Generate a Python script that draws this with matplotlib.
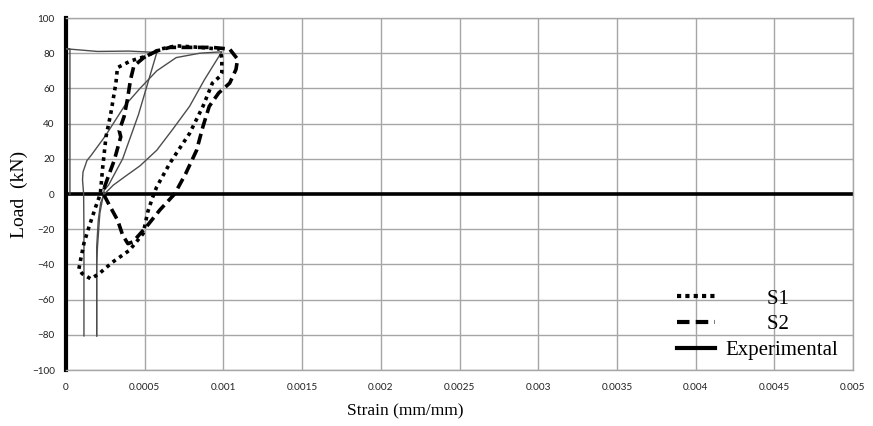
import numpy as np
import matplotlib
matplotlib.use("Agg")
import matplotlib.pyplot as plt
from matplotlib.lines import Line2D

# ---------------- data ----------------
s1_strain = [0.000082, 0.000092, 0.000114, 0.000146, 0.000189, 0.000218, 0.000233,
             0.000254, 0.000285, 0.000317, 0.000327, 0.00041, 0.000515, 0.000598,
             0.0007, 0.00085, 0.00098, 0.00099, 0.00099, 0.00098, 0.00093, 0.00087,
             0.000785, 0.0007, 0.00066, 0.000576, 0.00055, 0.00052, 0.00049, 0.000403,
             0.000296, 0.00021, 0.000157, 0.000103, 0.000082]
s1_load = [-42.5, -37.7, -28, -18.7, -7.2, 0, 15,
           32.5, 46, 63, 71.8, 75.6, 78.5, 82.3,
           84.2, 83.3, 82.3, 76.6, 68.9, 67, 63, 49.8,
           34.4, 23, 17.5, 4, -2, -10, -22.5, -32,
           -38.7, -45.3, -48.2, -45.3, -42.5]

s2_strain = [0.000244, 0.000275, 0.000306, 0.000348, 0.000338, 0.000369, 0.00039,
             0.00041, 0.000431, 0.000494, 0.000577, 0.00066, 0.000785, 0.00093,
             0.00104, 0.00109, 0.00108, 0.00104, 0.00097, 0.00091, 0.00087, 0.00083,
             0.00076, 0.00069, 0.000597, 0.00051, 0.000425, 0.000393, 0.00036,
             0.000328, 0.000275, 0.000242, 0.000244]
s2_load = [3.8, 11.5, 19, 32.5, 36, 44, 53.6,
           65, 72.7, 77.5, 81.3, 83.3, 83.3, 83.3,
           82.3, 76.6, 70.8, 63, 57.4, 49.8, 38.3, 24.9,
           11.5, 0, -9, -18.7, -27.2, -28.2, -23.4,
           -14.9, -6.3, -0.6, 3.8]

exp1_strain = [0.000025, 0.000025, 0.0, 0.0002, 0.0004, 0.00056, 0.000577, 0.00046,
               0.00036, 0.00027, 0.000243, 0.000215, 0.0002, 0.000195, 0.000195]
exp1_load = [0, 82.2, 82.5, 81, 81.2, 80.5, 80.4, 45,
             20, 5, 2.3, -11, -30, -40, -80.6]

exp2_strain = [0.000114, 0.000114, 0.000112, 0.000105, 0.000108, 0.000133, 0.00016,
               0.00025, 0.00037, 0.00047, 0.000577, 0.0007, 0.00085, 0.00099,
               0.00098, 0.00088, 0.000785, 0.00068, 0.000577, 0.00047, 0.00037,
               0.0003, 0.000244, 0.00022, 0.000205, 0.000195, 0.000195]
exp2_load = [-80.6, -20, 0, 8, 12.5, 19, 22,
             33, 49.8, 60, 70, 77.5, 80, 80.8,
             79.4, 65, 49.8, 37, 24.9, 16, 9.6,
             5, 0, -5, -15, -30, -80.6]

x_ticks = [0, 0.0005, 0.001, 0.0015, 0.002, 0.0025, 0.003, 0.0035, 0.004, 0.0045, 0.005]
x_ticklabels = ["0", "0.0005", "0.001", "0.0015", "0.002", "0.0025", "0.003",
                "0.0035", "0.004", "0.0045", "0.005"]
y_ticks = [-100, -80, -60, -40, -20, 0, 20, 40, 60, 80, 100]

# ---------------- figure ----------------
fig = plt.figure(figsize=(8.73, 4.26), dpi=100)
ax = fig.add_axes([66 / 873, 56 / 426, 787 / 873, 352 / 426])

grid_c = "#a6a6a6"
ax.set_xlim(0, 0.005)
ax.set_ylim(-100, 100)
ax.set_xticks(x_ticks)
ax.set_xticklabels(x_ticklabels)
ax.set_yticks(y_ticks)
ax.grid(True, color=grid_c, lw=1.0)
ax.set_axisbelow(True)
ax.tick_params(length=0, labelsize=7.2, colors="#222222", pad=9)
for lab in ax.get_xticklabels() + ax.get_yticklabels():
    lab.set_family("Lato")
ax.tick_params(axis="y", pad=8)

for side in ["top", "right", "bottom"]:
    ax.spines[side].set_color(grid_c)
    ax.spines[side].set_linewidth(1.0)
ax.spines["left"].set_color("black")
ax.spines["left"].set_linewidth(3.0)

ax.axhline(0, color="black", lw=2.6, zorder=2)

# experimental (thin grey)
ax.plot(exp1_strain, exp1_load, color="#4d4d4d", lw=1.0, zorder=3)
ax.plot(exp2_strain, exp2_load, color="#4d4d4d", lw=1.0, zorder=3)
# S1 dotted, S2 dashed
ax.plot(s1_strain, s1_load, color="black", lw=2.6, linestyle=(0, (1, 1.2)), zorder=4)
ax.plot(s2_strain, s2_load, color="black", lw=2.6, linestyle=(0, (3, 1.5)), zorder=4)

serif = "Liberation Serif"
ax.set_xlabel("Strain (mm/mm)", family=serif, fontsize=12.5)
ax.xaxis.set_label_coords((405 - 66) / 787, -33 / 352)
ax.set_ylabel("Load  (kN)", family=serif, fontsize=14)
ax.yaxis.set_label_coords(-38 / 787, 0.5)

handles = [
    Line2D([], [], color="black", lw=3, linestyle=(0, (1, 1))),
    Line2D([], [], color="black", lw=3, linestyle=(0, (3, 1.5))),
    Line2D([], [], color="black", lw=3, linestyle="-"),
]
labels = ["        S1", "        S2", "Experimental"]
leg = ax.legend(handles, labels, loc="upper left",
                bbox_to_anchor=((677 - 66) / 787, (370 - 289) / 352),
                frameon=False, borderpad=0, borderaxespad=0,
                handlelength=1.8, handletextpad=0.5, labelspacing=0.3,
                prop={"family": serif, "size": 15})

fig.savefig("out.png", dpi=100)
